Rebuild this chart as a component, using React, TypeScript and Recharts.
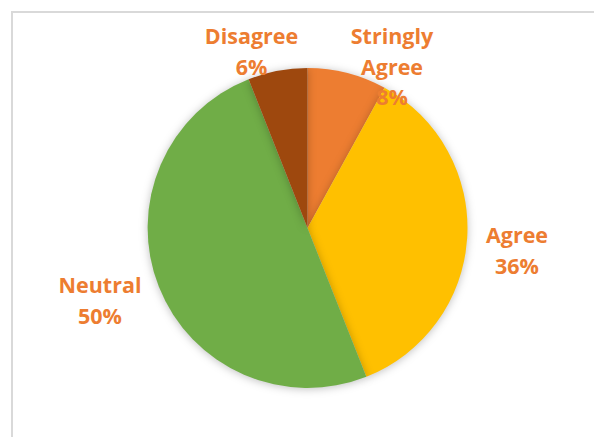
import React from "react";
import { PieChart, Pie, Cell } from "recharts";

const categories = ["Stringly Agree", "Agree", "Neutral", "Disagree"];
const percentages = [8, 36, 50, 6];
const labelLines = [["Stringly", "Agree", "8%"], ["Agree", "36%"], ["Neutral", "50%"], ["Disagree", "6%"]];

// layout (label placement relative to pie centre, Excel "best fit" style)
const labelOffsets: [number, number][] = [
  [84.5, -184],
  [209.5, 15],
  [-207.5, 65],
  [-56, -184],
];
const colors = ["#ED7D31", "#FFC000", "#70AD47", "#9E480E"];

const data = categories.map((name, i) => ({ name, value: percentages[i] }));

const LINE_H = 30.5;

const renderLabel = (props: any) => {
  const { cx, cy, index } = props;
  const [dx, dy] = labelOffsets[index];
  const lines = labelLines[index];
  return (
    <text
      key={`lbl-${index}`}
      x={cx + dx}
      y={cy + dy}
      textAnchor="middle"
      fill="#ED7D31"
      fontFamily="'Open Sans', sans-serif"
      fontWeight={700}
      fontSize={21.5}
    >
      {lines.map((l, j) => (
        <tspan key={j} x={cx + dx} dy={j === 0 ? 0 : LINE_H}>
          {l}
        </tspan>
      ))}
    </text>
  );
};

export default function App() {
  return (
    <div style={{ position: "absolute", left: 0, top: 0, width: 594, height: 437, background: "#fff" }}>
      <style>{`.recharts-pie-sector path { filter: drop-shadow(0px 1px 4px rgba(0,0,0,0.25)); }`}</style>
      <div
        style={{
          position: "absolute",
          left: 11,
          top: 11,
          width: 600,
          height: 450,
          border: "2px solid #D9D9D9",
          boxSizing: "border-box",
        }}
      />
      <div style={{ position: "absolute", left: 0, top: 0 }}>
        <PieChart width={594} height={437} margin={{ top: 0, right: 0, bottom: 0, left: 0 }}>
          <Pie
            data={data}
            dataKey="value"
            nameKey="name"
            cx={307.5}
            cy={228}
            outerRadius={160}
            startAngle={90}
            endAngle={-270}
            stroke="none"
            label={renderLabel}
            labelLine={false}
            isAnimationActive={false}
          >
            {data.map((d, i) => (
              <Cell key={d.name} fill={colors[i]} />
            ))}
          </Pie>
        </PieChart>
      </div>
    </div>
  );
}
